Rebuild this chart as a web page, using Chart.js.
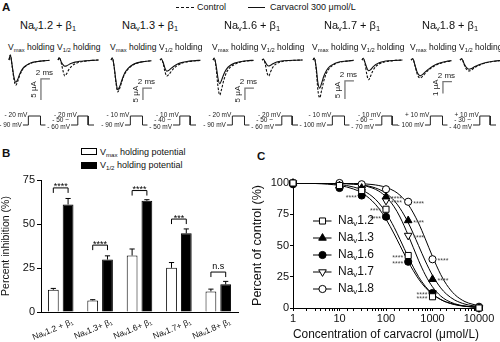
<!DOCTYPE html>
<html>
<head>
<meta charset="utf-8">
<script src="https://cdn.jsdelivr.net/npm/chart.js@4.4.1/dist/chart.umd.min.js"></script>
<style>
  html, body { margin: 0; padding: 0; background: #fff; }
  body { width: 500px; height: 342px; position: relative; overflow: hidden;
    font-family: "Liberation Sans", Arial, sans-serif; color: #111; }
  .t { position: absolute; white-space: nowrap; line-height: 1; }
  .t sub { font-size: 68%; vertical-align: -0.3em; line-height: 0; }
  .panel { font-weight: bold; font-size: 11.5px; }
  canvas { position: absolute; }
  .key { position: absolute; height: 0; }
  .box { position: absolute; width: 14px; height: 5px; border: 1px solid #000; }
</style>
</head>
<body>
<div class="t panel" style="left:2px;top:2px">A</div>
<div class="key" style="left:176px;top:7px;width:18px;border-top:1.2px dashed #111"></div>
<div class="t" style="left:197px;top:2.5px;font-size:9px">Control</div>
<div class="key" style="left:248px;top:7px;width:17px;border-top:1.2px solid #111"></div>
<div class="t" style="left:270px;top:2.5px;font-size:9px">Carvacrol 300 μmol/L</div>

<div class="t panel" style="left:2px;top:148px">B</div>
<div class="box" style="left:81px;top:148px;background:#fff"></div>
<div class="t" style="left:100px;top:147.5px;font-size:9px">V<sub>max</sub> holding potential</div>
<div class="box" style="left:81px;top:161.5px;background:#000"></div>
<div class="t" style="left:100px;top:160.5px;font-size:9px">V<sub>1/2</sub> holding potential</div>

<div class="t panel" style="left:257px;top:151px">C</div>

<canvas id="chartB" width="250" height="172" style="left:0;top:170px;width:250px;height:172px"></canvas>
<canvas id="chartC" width="250" height="177" style="left:250px;top:165px;width:250px;height:177px"></canvas>

<script>
const FONT = '"Liberation Sans", Arial, sans-serif';
Chart.defaults.font.family = FONT;
Chart.defaults.color = '#111';
Chart.defaults.animation = false;
Chart.defaults.events = [];
Chart.defaults.plugins.legend.display = false;
Chart.defaults.plugins.tooltip.enabled = false;

// ---------- data ----------
const channels = ['1.2', '1.3', '1.6', '1.7', '1.8'];

// A: sodium current traces, time in ms, current in µA
const tFast = [0, 0.3, 0.7, 1.1, 1.5, 1.9, 2.4, 3, 3.8, 4.8, 6, 7.5, 9];
const tSlow = [0, 0.4, 0.9, 1.4, 2.0, 2.6, 3.3, 4.2, 5.2, 6.4, 7.8, 9];
const vmaxCtrl = [
  [0, 1.2, -1.5, -4.6, -6.0, -5.2, -3.6, -2.3, -1.4, -0.8, -0.4, -0.2, -0.1],
  [0, 0.8, -3, -9.5, -13.3, -12, -9, -6, -3.8, -2.2, -1.2, -0.6, -0.3],
  [0, 0.8, -3.5, -11, -14.6, -12.2, -8.4, -5.2, -3.1, -1.8, -0.9, -0.4, -0.2],
  [0, 0.6, -2.5, -8.5, -10.5, -8.5, -5.8, -3.6, -2.1, -1.2, -0.6, -0.3, -0.1],
  [0, 0.1, -0.5, -1.2, -1.5, -1.35, -1.05, -0.75, -0.5, -0.3, -0.15, -0.08],
];
const vmaxCarv = [
  [0, 1.2, -1.3, -4.1, -5.3, -4.7, -3.3, -2.1, -1.3, -0.7, -0.4, -0.2, -0.1],
  [0, 0.8, -2.8, -8.8, -12.4, -11.2, -8.5, -5.6, -3.5, -2.0, -1.1, -0.6, -0.3],
  [0, 0.6, -2.4, -7.5, -9.9, -8.4, -5.9, -3.8, -2.3, -1.3, -0.7, -0.3, -0.1],
  [0, 0.5, -2.0, -6.4, -7.8, -6.5, -4.5, -2.9, -1.7, -1.0, -0.5, -0.3, -0.1],
  [0, 0.1, -0.45, -1.05, -1.32, -1.2, -0.95, -0.68, -0.44, -0.25, -0.12, -0.05],
];
const halfCtrl = [
  [0, 0.6, -0.6, -2.5, -3.8, -3.3, -2.3, -1.5, -0.9, -0.5, -0.3, -0.1, 0],
  [0, 0.5, -1.5, -4.8, -6.7, -6.2, -5.0, -3.6, -2.4, -1.4, -0.8, -0.4, -0.2],
  [0, 0.4, -1.5, -5.2, -6.7, -5.0, -3.0, -1.8, -1.0, -0.5, -0.3, -0.1, 0],
  [0, 0.5, -1.2, -4.2, -5.5, -4.5, -3.0, -1.9, -1.1, -0.6, -0.3, -0.1, 0],
  [0, 0.1, -0.35, -0.75, -0.92, -0.82, -0.62, -0.45, -0.3, -0.18, -0.1, -0.05],
];
const halfCarv = [
  [0, 0.5, -0.4, -1.1, -1.5, -1.4, -1.1, -0.8, -0.5, -0.3, -0.2, -0.1, 0],
  [0, 0.4, -1.0, -3.4, -4.7, -4.4, -3.6, -2.7, -1.8, -1.1, -0.6, -0.3, -0.1],
  [0, 0.3, -0.8, -2.0, -2.5, -2.2, -1.6, -1.0, -0.6, -0.3, -0.2, -0.1, 0],
  [0, 0.4, -0.8, -2.3, -3.0, -2.7, -2.0, -1.3, -0.8, -0.4, -0.2, -0.1, 0],
  [0, 0.1, -0.3, -0.62, -0.77, -0.7, -0.55, -0.4, -0.27, -0.16, -0.08, -0.04],
];
const barUA = [5, 5, 5, 5, 1];

// A: voltage protocols (schematic step: 0 = holding, 1 = test pulse)
const protoLevel = [0, 0, 1, 1, 0, 0];
const protoVmaxT = [3.1, 4.3, 4.3, 7.0, 7.0, 8.1];
const protoHalfT = [2.9, 4.4, 4.4, 6.7, 6.7, 8.0];
const vmaxStep = ['- 20 mV', '- 10 mV', '- 20 mV', '- 10 mV', '+ 10 mV'];
const vmaxHold = ['- 90 mV', '- 90 mV', '- 90 mV', '- 100 mV', '- 100 mV'];
const halfStep = ['- 20 mV', '- 10 mV', '- 20 mV', '- 10 mV', '+ 10 mV'];
const halfHold = [['- 50 ~', '- 60 mV'], ['- 40 ~', '- 50 mV'], ['- 50 ~', '- 60 mV'],
                  ['- 60 ~', '- 70 mV'], ['- 30 ~', '- 40 mV']];

// B: percent inhibition by 300 µmol/L carvacrol
const bLabels = ['Naᵥ1.2 + β₁', 'Naᵥ1.3+ β₁', 'Naᵥ1.6+ β₁', 'Naᵥ1.7+ β₁', 'Naᵥ1.8+ β₁'];
const vmaxInh = [12.6, 6.6, 32.1, 25.1, 11.7];
const vmaxSem = [0.8, 0.4, 3.7, 3.0, 1.3];
const halfInh = [61.1, 29.8, 63.2, 44.7, 15.7];
const halfSem = [3.4, 2.1, 0.6, 2.5, 1.7];
const sigText = ['****', '****', '****', '***', 'n.s'];
const sigLevel = [70.5, 38, 69, 52.8, 22.7];

// C: concentration-response
const conc = [1, 10, 30, 100, 300, 1000, 10000];
const resp = [
  [100, 98, 94, 79, 42, 9, 0],
  [100, 98, 96, 89, 70, 23, 0],
  [99, 96, 90, 73, 37, 12, 0],
  [100, 98, 95, 86, 58, 12, 0],
  [100, 100, 99, 95, 85, 39, 1],
];
const fitConc = [1, 3, 10, 20, 30, 50, 70, 100, 150, 200, 300, 500, 700, 1000, 1500, 2000, 3000, 5000, 10000];
const fits = [
  [100, 99.8, 98.8, 96.8, 94.5, 89.4, 84.1, 76.2, 64.5, 54.9, 40.8, 25.2, 17.4, 11.3, 6.8, 4.6, 2.7, 1.3, 0.5],
  [100, 100, 99.7, 99.2, 98.6, 96.9, 95.0, 91.8, 85.9, 79.8, 68.3, 50, 37.6, 26.1, 16.1, 11.1, 6.4, 3.1, 1.1],
  [99.9, 99.6, 98.0, 95.2, 92.2, 85.8, 79.7, 71.1, 59.2, 50, 37.1, 23.3, 16.4, 11.0, 6.8, 4.8, 2.9, 1.5, 0.6],
  [100, 100, 99.7, 99.1, 98.2, 96.1, 93.5, 89.0, 80.9, 72.8, 58.3, 38.2, 26.5, 16.9, 9.6, 6.3, 3.4, 1.5, 0.5],
  [100, 100, 99.9, 99.7, 99.5, 98.8, 98.0, 96.5, 93.6, 90.2, 82.8, 68.0, 55.3, 41.2, 26.8, 18.8, 10.8, 5.1, 1.7],
];
// significance marks: series, concentration index, side of the point
const starSeries = [2, 1, 3, 0, 2, 4, 1, 3, 0, 2, 4, 1, 2, 0];
const starIdx    = [2, 3, 3, 3, 3, 4, 4, 4, 4, 4, 5, 5, 5, 5];
const starSide   = ['L', 'R', 'R', 'L', 'L', 'R', 'R', 'R', 'L', 'L', 'R', 'R', 'L', 'L'];

const pts = (xs, ys) => xs.map((x, k) => ({ x, y: ys[k] }));

function addText(html, x, y, size, center) {
  const d = document.createElement('div');
  d.className = 't';
  d.innerHTML = html;
  d.style.left = x + 'px'; d.style.top = y + 'px'; d.style.fontSize = size + 'px';
  if (center) d.style.transform = 'translateX(-50%)';
  document.body.appendChild(d);
}

// ---------- A: traces ----------
const aLeft = [0, 102, 204, 304, 402];
const aTop = 30, aW = 106, aH = 105, aPad = 6;
const msPx = 4.5;                      // px per ms
const aBase = 30;                      // zero current, px from canvas top
const uaPx = [4.2, 2.4, 2.4, 3.6, 12]; // px per µA
const barBottom = [-9.5, -16.7, -16.7, -10.8, -2.8];
const vmaxStart = 9 + aPad, halfStart = 58 + aPad;
const lvlPx = 9, lvlBase = 95;

const aDecor = {
  id: 'aDecor',
  afterDatasetsDraw(chart, args, opts) {
    const i = opts.ch;
    const { ctx } = chart;
    const { x, x2, y, v } = chart.scales;
    ctx.save();
    // scale bar: 2 ms and barUA µA
    const bx0 = x.getPixelForValue(7.1), bx1 = x.getPixelForValue(9.1);
    const by0 = y.getPixelForValue(barBottom[i] + barUA[i]), by1 = y.getPixelForValue(barBottom[i]);
    ctx.strokeStyle = '#777'; ctx.lineWidth = 1.3;
    ctx.beginPath(); ctx.moveTo(bx1, by0); ctx.lineTo(bx0, by0); ctx.lineTo(bx0, by1); ctx.stroke();
    ctx.fillStyle = '#222'; ctx.font = '8px ' + FONT;
    ctx.textAlign = 'center'; ctx.textBaseline = 'bottom';
    ctx.fillText('2 ms', (bx0 + bx1) / 2 - 1, by0 - 2);
    ctx.save();
    ctx.translate(bx0 - 3, (by0 + by1) / 2); ctx.rotate(-Math.PI / 2);
    ctx.fillText(barUA[i] + ' μA', 0, 0);
    ctx.restore();
    // protocol labels
    ctx.font = '6.5px ' + FONT; ctx.textAlign = 'right'; ctx.textBaseline = 'middle';
    const hi = v.getPixelForValue(1), lo = v.getPixelForValue(0);
    ctx.fillText(vmaxStep[i], x.getPixelForValue(protoVmaxT[2]) - 1, hi - 1);
    ctx.fillText(vmaxHold[i], x.getPixelForValue(protoVmaxT[0]) - 1, lo);
    ctx.fillText(halfStep[i], x2.getPixelForValue(protoHalfT[2]) - 1, hi - 1);
    ctx.fillText(halfHold[i][0], x2.getPixelForValue(protoHalfT[0]) - 2, lo - 5);
    ctx.fillText(halfHold[i][1], x2.getPixelForValue(protoHalfT[0]) - 1, lo + 2.5);
    ctx.restore();
  },
};

const trace = (data, axis, dashed) => ({
  data, xAxisID: axis, yAxisID: 'y', borderColor: '#111', borderWidth: 1.1,
  borderDash: dashed ? [2.5, 1.5] : [], cubicInterpolationMode: 'monotone', pointRadius: 0,
});
const step = (data, axis) => ({
  data, xAxisID: axis, yAxisID: 'v', borderColor: '#222', borderWidth: 1, tension: 0, pointRadius: 0,
});

channels.forEach((ch, i) => {
  const left = aLeft[i];
  addText(`Na<sub>v</sub>${ch} + β<sub>1</sub>`, left + 48, 19.5, 11, true);
  addText('V<sub>max</sub> holding', left + 8, 42.5, 8.5);
  addText('V<sub>1/2</sub> holding', left + 57, 42.5, 8.5);

  const cv = document.createElement('canvas');
  cv.width = aW; cv.height = aH;
  Object.assign(cv.style, { left: (left - aPad) + 'px', top: aTop + 'px', width: aW + 'px', height: aH + 'px' });
  document.body.appendChild(cv);
  const t = i === 4 ? tSlow : tFast;

  new Chart(cv, {
    type: 'line',
    data: { datasets: [
      trace(pts(t, vmaxCtrl[i]), 'x', true),
      trace(pts(t, vmaxCarv[i]), 'x', false),
      trace(pts(t, halfCtrl[i]), 'x2', true),
      trace(pts(t, halfCarv[i]), 'x2', false),
      step(pts(protoVmaxT, protoLevel), 'x'),
      step(pts(protoHalfT, protoLevel), 'x2'),
    ] },
    options: {
      responsive: false,
      layout: { padding: 0 },
      scales: {
        x: { type: 'linear', display: false, min: -vmaxStart / msPx, max: (aW - vmaxStart) / msPx },
        x2: { type: 'linear', axis: 'x', display: false, min: -halfStart / msPx, max: (aW - halfStart) / msPx },
        y: { type: 'linear', display: false, min: -(aH - aBase) / uaPx[i], max: aBase / uaPx[i] },
        v: { type: 'linear', axis: 'y', display: false, min: -(aH - lvlBase) / lvlPx, max: lvlBase / lvlPx },
      },
      plugins: { aDecor: { ch: i } },
    },
    plugins: [aDecor],
  });
});

// ---------- B: bars ----------
const bDecor = {
  id: 'bDecor',
  afterDatasetsDraw(chart) {
    const { ctx } = chart;
    const y = chart.scales.y;
    const m0 = chart.getDatasetMeta(0).data, m1 = chart.getDatasetMeta(1).data;
    ctx.save();
    ctx.strokeStyle = '#000'; ctx.lineWidth = 1;
    [[m0, vmaxInh, vmaxSem], [m1, halfInh, halfSem]].forEach(([els, vals, sem]) => {
      els.forEach((el, k) => {
        const top = y.getPixelForValue(vals[k] + sem[k]);
        ctx.beginPath();
        ctx.moveTo(el.x, el.y); ctx.lineTo(el.x, top);
        ctx.moveTo(el.x - 2.6, top); ctx.lineTo(el.x + 2.6, top);
        ctx.stroke();
      });
    });
    ctx.fillStyle = '#000'; ctx.textAlign = 'center'; ctx.textBaseline = 'alphabetic';
    ctx.font = '9px ' + FONT;
    m0.forEach((el, k) => {
      const xa = el.x, xb = m1[k].x, yb = y.getPixelForValue(sigLevel[k]);
      ctx.beginPath();
      ctx.moveTo(xa, yb + 5); ctx.lineTo(xa, yb); ctx.lineTo(xb, yb); ctx.lineTo(xb, yb + 5);
      ctx.stroke();
      const dy = sigText[k].includes('*') ? 1.5 : -3;
      ctx.fillText(sigText[k], (xa + xb) / 2, yb + dy);
    });
    ctx.restore();
  },
};

new Chart(document.getElementById('chartB'), {
  type: 'bar',
  data: {
    labels: bLabels,
    datasets: [
      { data: vmaxInh, backgroundColor: '#fff', borderColor: '#000', borderWidth: 1,
        barPercentage: 0.73, categoryPercentage: 0.75 },
      { data: halfInh, backgroundColor: '#000', borderColor: '#000', borderWidth: 1,
        barPercentage: 0.73, categoryPercentage: 0.75 },
    ],
  },
  options: {
    responsive: false,
    layout: { padding: { top: 10, right: 12, left: 0, bottom: 0 } },
    scales: {
      x: {
        grid: { display: false, drawTicks: false },
        border: { color: '#000', width: 1 },
        ticks: { color: '#111', font: { size: 8.5 }, minRotation: 22, maxRotation: 22,
          autoSkip: false, labelOffset: 12, padding: 5 },
        afterFit: (s) => { s.height = 30; },
      },
      y: {
        min: 0, max: 75,
        grid: { drawOnChartArea: false, tickLength: 4, color: '#000' },
        border: { color: '#000', width: 1 },
        ticks: { stepSize: 25, color: '#111', font: { size: 11 }, padding: 2 },
        title: { display: true, text: 'Percent inhibition (%)', color: '#111', font: { size: 10.5 },
          padding: { top: 0, bottom: 2 } },
        afterFit: (s) => { s.width = 41; },
      },
    },
  },
  plugins: [bDecor],
});

// ---------- C: concentration-response ----------
const mStyle = ['rect', 'triangle', 'circle', 'triangle', 'circle'];
const mRot = [0, 0, 0, 180, 0];
const mFill = ['#fff', '#000', '#000', '#fff', '#fff'];
const mSize = [4.3, 4.4, 3.6, 4.4, 3.6];

function marker(ctx, k, x, y) {
  const r = mSize[k];
  ctx.beginPath();
  if (mStyle[k] === 'circle') ctx.arc(x, y, r, 0, Math.PI * 2);
  else if (mStyle[k] === 'rect') { const s = r * Math.SQRT1_2; ctx.rect(x - s, y - s, 2 * s, 2 * s); }
  else {
    const d = mRot[k] ? -1 : 1;
    ctx.moveTo(x, y - d * r); ctx.lineTo(x + r * 0.866, y + d * r * 0.5);
    ctx.lineTo(x - r * 0.866, y + d * r * 0.5); ctx.closePath();
  }
  ctx.fillStyle = mFill[k]; ctx.fill(); ctx.stroke();
}

const cDecor = {
  id: 'cDecor',
  afterDatasetsDraw(chart) {
    const { ctx, chartArea } = chart;
    ctx.save();
    // significance marks next to points
    ctx.fillStyle = '#444'; ctx.font = '7px ' + FONT; ctx.textBaseline = 'alphabetic';
    starSeries.forEach((s, n) => {
      const el = chart.getDatasetMeta(s).data[starIdx[n]];
      const right = starSide[n] === 'R';
      ctx.textAlign = right ? 'left' : 'right';
      ctx.fillText('****', el.x + (right ? 5 : -5), el.y + 4);
    });
    // legend
    ctx.strokeStyle = '#000'; ctx.lineWidth = 1;
    channels.forEach((ch, k) => {
      const yy = chartArea.top + 38 + k * 17;
      const x0 = chartArea.left + 20;
      ctx.beginPath(); ctx.moveTo(x0, yy); ctx.lineTo(x0 + 18.5, yy); ctx.stroke();
      marker(ctx, k, x0 + 9.5, yy);
      ctx.fillStyle = '#111'; ctx.textAlign = 'left'; ctx.textBaseline = 'middle';
      let tx = x0 + 25;
      ctx.font = '12px ' + FONT; ctx.fillText('Na', tx, yy); tx += ctx.measureText('Na').width;
      ctx.font = '8px ' + FONT; ctx.fillText('v', tx, yy + 3); tx += ctx.measureText('v').width;
      ctx.font = '12px ' + FONT; ctx.fillText(ch, tx, yy);
    });
    ctx.restore();
  },
};

const pointSets = resp.map((vals, k) => ({
  data: pts(conc, vals), showLine: false, order: 0, clip: false,
  pointStyle: mStyle[k], rotation: mRot[k], pointRadius: mSize[k],
  pointBackgroundColor: mFill[k], pointBorderColor: '#000', pointBorderWidth: 1,
}));
const curveSets = fits.map((vals) => ({
  data: pts(fitConc, vals), order: 1, borderColor: '#000', borderWidth: 1,
  cubicInterpolationMode: 'monotone', pointRadius: 0,
}));

new Chart(document.getElementById('chartC'), {
  type: 'line',
  data: { datasets: [...pointSets, ...curveSets] },
  options: {
    responsive: false,
    layout: { padding: { top: 18, right: 21, left: 0, bottom: 0 } },
    scales: {
      x: {
        type: 'logarithmic', min: 1, max: 10000,
        grid: { drawOnChartArea: false, tickLength: 3, color: '#000' },
        border: { color: '#000', width: 1 },
        ticks: { autoSkip: false, maxRotation: 0, color: '#111', font: { size: 11 }, padding: 1,
          callback: (v) => { const l = Math.log10(v); return Math.abs(l - Math.round(l)) < 1e-9 ? String(v) : ''; } },
        title: { display: true, text: 'Concentration of carvacrol (μmol/L)', color: '#111',
          font: { size: 12 }, padding: { top: 1, bottom: 0 } },
        afterFit: (s) => { s.height = 34; },
      },
      y: {
        min: 0, max: 100,
        grid: { drawOnChartArea: false, tickLength: 3, color: '#000' },
        border: { color: '#000', width: 1 },
        ticks: { stepSize: 25, color: '#111', font: { size: 11 }, padding: 1 },
        title: { display: true, text: 'Percent of control (%)', color: '#111', font: { size: 12.5 },
          padding: { top: 0, bottom: 2 } },
        afterFit: (s) => { s.width = 43; },
      },
    },
  },
  plugins: [cDecor],
});
</script>
</body>
</html>
